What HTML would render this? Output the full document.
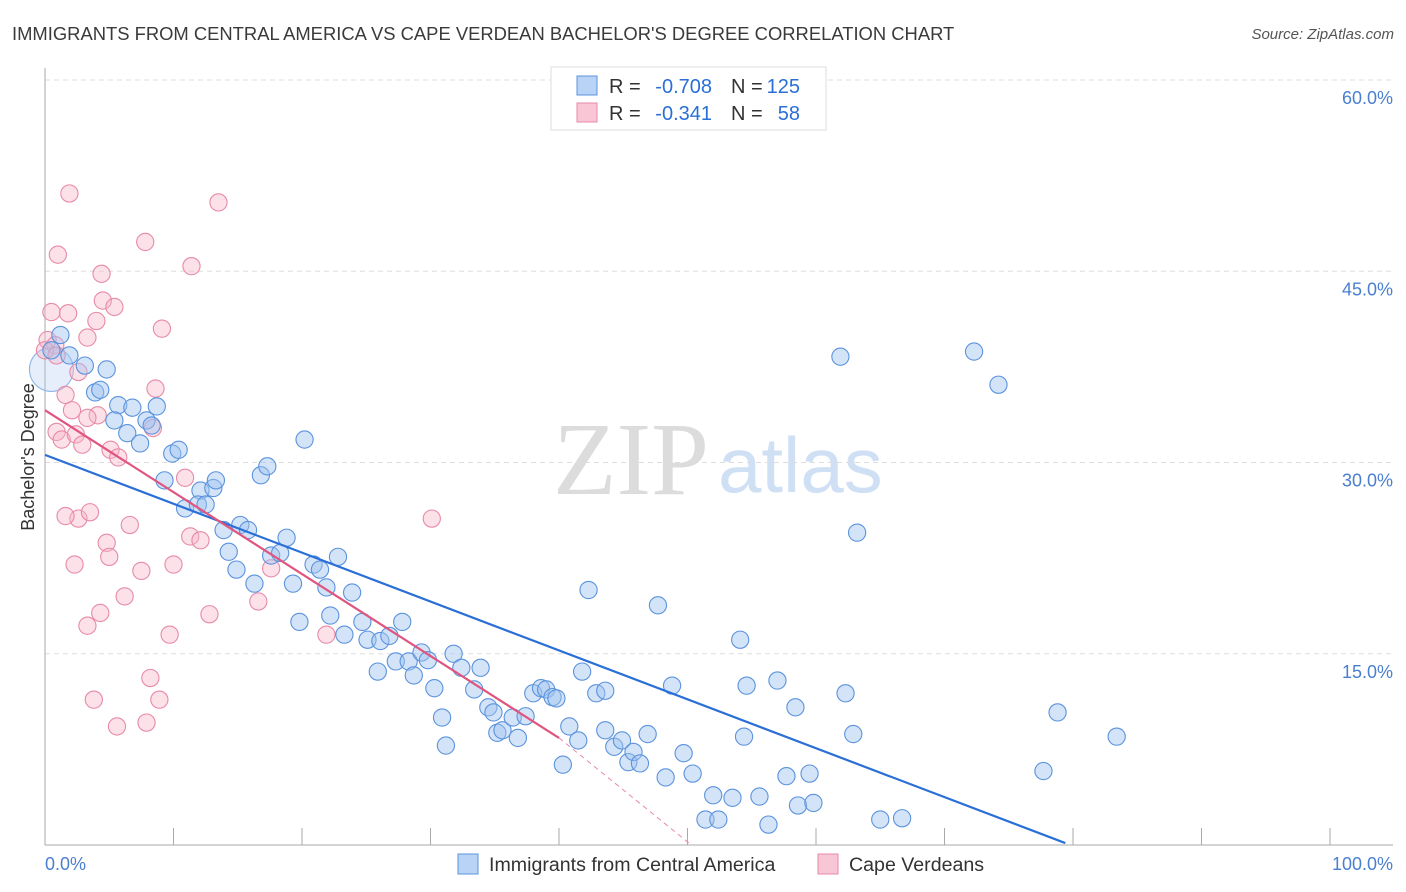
<!DOCTYPE html>
<html><head><meta charset="utf-8"><style>
body{margin:0;background:#fff;font-family:"Liberation Sans",sans-serif}
svg{display:block}
</style></head><body>
<svg id="c" width="1406" height="892" xmlns="http://www.w3.org/2000/svg">
<text x="12" y="40" font-size="18.4" fill="#3a3a3a">IMMIGRANTS FROM CENTRAL AMERICA VS CAPE VERDEAN BACHELOR'S DEGREE CORRELATION CHART</text>
<text x="1394" y="39" font-size="15" fill="#555" font-style="italic" text-anchor="end">Source: ZipAtlas.com</text>
<g>
<text x="553" y="494" font-size="104" fill="#dcdcdc" font-family="Liberation Serif,serif">ZIP</text>
<text x="718" y="492" font-size="78" fill="#cfe0f5">atlas</text>
</g>
<g id="grid"></g><g id="axes"></g><g id="pts"></g><g id="lines"></g>
<text transform="translate(34,457) rotate(-90)" font-size="18" fill="#333" text-anchor="middle">Bachelor's Degree</text>
<g>
<rect x="551" y="67" width="275" height="63" fill="#fff" stroke="#ddd"/>
<rect x="577" y="76" width="20" height="19" fill="#b8d3f5" stroke="#5b93dd"/>
<text x="609" y="93" font-size="20" fill="#333">R =</text>
<text x="712" y="93" font-size="20" fill="#2a6fd6" text-anchor="end">-0.708</text>
<text x="731" y="93" font-size="20" fill="#333">N =</text>
<text x="800" y="93" font-size="20" fill="#2a6fd6" text-anchor="end">125</text>
<rect x="577" y="103" width="20" height="19" fill="#f9c6d5" stroke="#e88aa8"/>
<text x="609" y="120" font-size="20" fill="#333">R =</text>
<text x="712" y="120" font-size="20" fill="#2a6fd6" text-anchor="end">-0.341</text>
<text x="731" y="120" font-size="20" fill="#333">N =</text>
<text x="800" y="120" font-size="20" fill="#2a6fd6" text-anchor="end">58</text>
</g>
<g>
<rect x="458" y="854" width="20" height="20" fill="#b8d3f5" stroke="#5b93dd"/>
<text x="489" y="871" font-size="19.6" fill="#333">Immigrants from Central America</text>
<rect x="818" y="854" width="20" height="20" fill="#f9c6d5" stroke="#e88aa8"/>
<text x="849" y="871" font-size="19.6" fill="#333">Cape Verdeans</text>
</g>
</svg>
<script>
const yTicks=[15,30,45,60];
const yTickLabels=["15.0%","30.0%","45.0%","60.0%"];
const xTicks=[10,20,30,40,50,60,70,80,90,100];
const blueX=[61.9,72.3,74.2,63.2,42.3,47.7,54.1,20.2,1.2,0.5,1.9,3.1,4.8,3.9,4.3,5.7,6.8,5.4,6.4,7.4,7.9,8.7,8.3,9.9,10.4,9.3,12.1,10.9,11.9,12.5,13.1,13.3,16.8,17.3,13.9,15.2,15.8,14.3,14.9,16.3,17.6,18.3,18.8,19.3,19.8,20.9,21.4,21.9,22.8,22.2,23.3,23.9,24.7,25.1,26.1,26.8,27.8,25.9,27.3,28.3,28.7,29.3,29.8,30.3,30.9,31.2,31.8,32.4,33.4,33.9,34.5,34.9,35.2,35.6,36.4,37.4,36.8,38.0,38.6,39.0,39.5,39.8,40.3,40.8,41.5,41.8,42.9,43.6,43.6,44.3,44.9,45.4,45.8,46.3,46.9,48.3,48.8,49.7,50.4,52.0,51.4,52.4,53.5,54.4,54.6,55.6,56.3,57.0,57.7,58.4,58.6,59.5,59.8,62.3,62.9,65.0,66.7,77.7,78.8,83.4];
const blueY=[38.3,38.7,36.1,24.5,20.0,18.8,16.1,31.8,40.0,38.8,38.4,37.6,37.3,35.5,35.7,34.5,34.3,33.3,32.3,31.5,33.3,34.4,32.9,30.7,31.0,28.6,27.8,26.4,26.7,26.7,28.0,28.6,29.0,29.7,24.7,25.1,24.7,23.0,21.6,20.5,22.7,22.9,24.1,20.5,17.5,22.0,21.6,20.2,22.6,18.0,16.5,19.8,17.5,16.1,16.0,16.4,17.5,13.6,14.4,14.4,13.3,15.1,14.5,12.3,10.0,7.8,15.0,13.9,12.2,13.9,10.8,10.4,8.8,9.0,10.0,10.1,8.4,11.9,12.3,12.2,11.6,11.5,6.3,9.3,8.2,13.6,11.9,12.1,9.0,7.7,8.2,6.5,7.3,6.4,8.7,5.3,12.5,7.2,5.6,3.9,2.0,2.0,3.7,8.5,12.5,3.8,1.6,12.9,5.4,10.8,3.1,5.6,3.3,11.9,8.7,2.0,2.1,5.8,10.4,8.5];
const bigBlueX=[0.5], bigBlueY=[37.3];
const pinkX=[1.9,13.5,1.0,7.8,11.4,4.4,4.5,5.4,0.5,1.8,4.0,9.1,3.3,0.2,0.8,8.6,1.6,2.1,4.1,3.3,8.4,0.9,1.3,2.4,2.9,5.1,5.7,10.9,11.3,12.1,2.6,1.6,3.5,6.6,30.1,4.8,5.0,2.3,7.5,10.0,6.2,4.3,3.3,12.8,17.6,16.6,9.7,21.9,8.2,3.8,8.9,5.6,7.9,0.0,2.6,0.9];
const pinkY=[51.1,50.4,46.3,47.3,45.4,44.8,42.7,42.2,41.8,41.7,41.1,40.5,39.8,39.6,39.2,35.8,35.3,34.1,33.7,33.5,32.7,32.4,31.8,32.2,31.4,31.0,30.4,28.8,24.2,23.9,25.6,25.8,26.1,25.1,25.6,23.7,22.6,22.0,21.5,22.0,19.5,18.2,17.2,18.1,21.7,19.1,16.5,16.5,13.1,11.4,11.4,9.3,9.6,38.8,37.1,38.4];
const blueTrend=[[0,30.6],[79.4,0.15]];
const pinkTrend=[[0,34.1],[40,8.4]];
const pinkDash=[[40,8.4],[50.3,0]];

const NS="http://www.w3.org/2000/svg";
const X=v=>45+v*12.85, Y=v=>845-v*12.75;
function mk(t,a,p){const e=document.createElementNS(NS,t);for(const k in a)e.setAttribute(k,a[k]);document.getElementById(p).appendChild(e);return e;}
yTicks.forEach((t,i)=>{
 const g=mk('line',{x1:45,x2:1393,y1:Y(t),y2:Y(t),stroke:'#ddd','stroke-dasharray':'5,4'},'grid');
 
 
 const l=mk('text',{x:1393,y:Y(t)+24,'font-size':18,fill:'#4a7fd0','text-anchor':'end'},'axes');
 l.textContent=yTickLabels[i];
 
 
});
let a=mk('line',{x1:45,x2:45,y1:68,y2:845,stroke:'#aaa'},'axes');


a=mk('line',{x1:45,x2:1393,y1:845,y2:845,stroke:'#aaa'},'axes');


xTicks.forEach(t=>{const e=mk('line',{x1:X(t),x2:X(t),y1:828,y2:845,stroke:'#aaa'},'axes');
 
 });
let t0=mk('text',{x:45,y:870,'font-size':18,fill:'#4a7fd0'},'axes');t0.textContent='0.0%';


t0=mk('text',{x:1393,y:870,'font-size':18,fill:'#4a7fd0','text-anchor':'end'},'axes');t0.textContent='100.0%';


function pts(xs,ys,r,fill,stroke,name){xs.forEach((x,i)=>{const c=mk('circle',{cx:X(x),cy:Y(ys[i]),r:r,fill:fill,stroke:stroke,'stroke-width':1.1},'pts');
 
 });}
pts(bigBlueX,bigBlueY,22,'rgba(170,200,240,0.3)','#8fb5e8','point-central-america');
pts(pinkX,pinkY,8.6,'rgba(248,180,200,0.4)','#e88aa8','point-cape-verdean');
pts(blueX,blueY,8.6,'rgba(160,196,240,0.45)','#5b93dd','point-central-america');
function ln(p,s,w,d,name){const e=mk('line',{x1:X(p[0][0]),y1:Y(p[0][1]),x2:X(p[1][0]),y2:Y(p[1][1]),stroke:s,'stroke-width':w},'lines');if(d)e.setAttribute('stroke-dasharray',d);
 
 }
ln(blueTrend,'#2a6fd6',2.2,null,'trendline-central-america');
ln(pinkTrend,'#e0557f',2.2,null,'trendline-cape-verdean');
ln(pinkDash,'#e88aa8',1,'5,4','trendline-cape-verdean-extension');
</script>
</body></html>
